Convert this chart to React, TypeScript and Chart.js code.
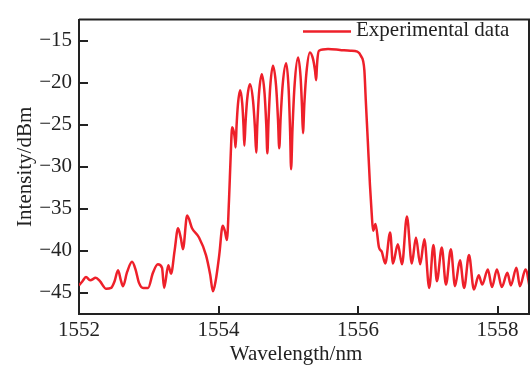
import React, { useEffect, useRef } from "react";
import { Chart, registerables } from "chart.js";

Chart.register(...registerables);

// ---- data ----
const wavelengths = [
  1552.0, 1552.05, 1552.1, 1552.16, 1552.24, 1552.3, 1552.39, 1552.46, 1552.51, 1552.56,
  1552.6, 1552.63, 1552.69, 1552.76, 1552.81, 1552.86, 1552.92, 1552.99, 1553.06, 1553.13,
  1553.19, 1553.22, 1553.28, 1553.32, 1553.37, 1553.42, 1553.46, 1553.49, 1553.55, 1553.62,
  1553.72, 1553.82, 1553.88, 1553.92, 1553.96, 1554.01, 1554.06, 1554.09, 1554.12, 1554.15,
  1554.175, 1554.195, 1554.22, 1554.235, 1554.245, 1554.258, 1554.278, 1554.31, 1554.34, 1554.358,
  1554.37, 1554.386, 1554.41, 1554.45, 1554.495, 1554.522, 1554.54, 1554.556, 1554.58, 1554.62,
  1554.66, 1554.684, 1554.7, 1554.716, 1554.74, 1554.78, 1554.825, 1554.852, 1554.87, 1554.89,
  1554.92, 1554.97, 1555.005, 1555.026, 1555.04, 1555.06, 1555.09, 1555.14, 1555.175, 1555.196,
  1555.21, 1555.23, 1555.26, 1555.31, 1555.355, 1555.382, 1555.4, 1555.408, 1555.42, 1555.44,
  1555.57, 1555.74, 1555.89, 1555.99, 1556.04, 1556.09, 1556.11, 1556.14, 1556.17, 1556.195,
  1556.215, 1556.25, 1556.3, 1556.34, 1556.39, 1556.46, 1556.5, 1556.57, 1556.63, 1556.7,
  1556.77, 1556.83, 1556.89, 1556.95, 1557.02, 1557.08, 1557.13, 1557.2, 1557.26, 1557.33,
  1557.39, 1557.46, 1557.52, 1557.59, 1557.66, 1557.73, 1557.78, 1557.86, 1557.92, 1557.99,
  1558.06, 1558.14, 1558.19, 1558.27, 1558.32, 1558.4, 1558.47,
];
const intensities = [
  -44.1, -43.6, -43.1, -43.5, -43.2, -43.6, -44.5, -44.4, -43.6, -42.3,
  -43.5, -44.2, -42.5, -41.3, -42.2, -43.8, -44.4, -44.4, -42.6, -41.6,
  -42.0, -44.4, -41.7, -42.7, -40.0, -37.3, -38.5, -39.8, -35.8, -37.3,
  -38.4, -40.5, -42.8, -44.8, -43.5, -40.5, -37.0, -37.6, -38.7, -34.0,
  -28.5, -25.3, -25.9, -26.8, -27.7, -25.2, -22.6, -20.9, -22.5, -25.1,
  -27.5, -24.9, -22.0, -20.2, -22.2, -25.4, -28.3, -25.0, -21.3, -19.0,
  -21.3, -25.0, -28.4, -24.7, -20.6, -18.0, -20.4, -24.3, -27.8, -24.2,
  -20.2, -17.7, -20.8, -25.8, -30.3, -25.5, -20.3, -17.0, -19.2, -22.8,
  -26.0, -22.5, -18.8, -16.4, -17.2, -18.5, -19.7, -18.4, -17.0, -16.2,
  -16.0, -16.1, -16.2, -16.3, -16.8, -18.5, -22.0, -27.0, -32.1, -35.5,
  -37.6, -36.8, -39.6, -40.1, -41.5, -37.8, -41.5, -39.2, -41.6, -35.9,
  -41.5, -38.4, -41.6, -38.6, -44.4, -39.3, -43.6, -39.6, -44.0, -39.8,
  -44.2, -41.1, -44.4, -40.5, -44.6, -42.9, -44.0, -42.2, -44.3, -42.2,
  -44.3, -42.6, -44.1, -42.0, -44.2, -42.2, -44.8,
];
const xTickValues = [1552, 1554, 1556, 1558];
const yTickValues = [-45, -40, -35, -30, -25, -20, -15];
const xRange = [1552, 1558.45];
const yRange = [-47.5, -12.5];
const seriesLabel = "Experimental data";
const xTitle = "Wavelength/nm";
const yTitle = "Intensity/dBm";

const FONT_FAMILY = "'Liberation Serif', 'Times New Roman', serif";
const FONT_SIZE = 21;
const LINE_COLOR = "rgb(238, 32, 42)";
const INK = "#222";

const framePlugin = {
  id: "frameAndLegend",
  afterDraw(chart: any) {
    const { ctx, chartArea: a, scales } = chart;
    ctx.save();
    ctx.strokeStyle = INK;
    ctx.lineWidth = 2;
    ctx.beginPath();
    ctx.moveTo(a.left, a.top);
    ctx.lineTo(a.right, a.top);
    ctx.lineTo(a.right, a.bottom);
    xTickValues.forEach((v) => {
      const px = Math.round(scales.x.getPixelForValue(v));
      ctx.moveTo(px, a.bottom);
      ctx.lineTo(px, a.bottom - 8);
    });
    yTickValues.forEach((v) => {
      const py = Math.round(scales.y.getPixelForValue(v));
      ctx.moveTo(a.left, py);
      ctx.lineTo(a.left + 9, py);
    });
    ctx.stroke();

    ctx.fillStyle = INK;
    ctx.font = `${FONT_SIZE}px ${FONT_FAMILY}`;
    ctx.textBaseline = "middle";

    // x axis title (sits slightly left of the plot centre in the reference)
    ctx.textAlign = "center";
    ctx.fillText(xTitle, (a.left + a.right) / 2 - 8, a.bottom + 40);

    // legend
    const lx = a.right - 226;
    const ly = a.top + 12;
    ctx.strokeStyle = LINE_COLOR;
    ctx.lineWidth = 2.5;
    ctx.beginPath();
    ctx.moveTo(lx, ly);
    ctx.lineTo(lx + 48, ly);
    ctx.stroke();
    ctx.textAlign = "left";
    ctx.fillText(seriesLabel, lx + 53, ly - 1);
    ctx.restore();
  },
};

export default function App() {
  const ref = useRef<HTMLCanvasElement | null>(null);

  useEffect(() => {
    if (!ref.current) return;
    const points = wavelengths.map((w, i) => ({ x: w, y: intensities[i] }));
    const tickFont = { family: FONT_FAMILY, size: FONT_SIZE };
    const chart = new Chart(ref.current, {
      type: "line",
      data: {
        datasets: [
          {
            label: seriesLabel,
            data: points,
            borderColor: LINE_COLOR,
            borderWidth: 2.5,
            pointRadius: 0,
            fill: false,
            cubicInterpolationMode: "monotone",
          },
        ],
      },
      options: {
        responsive: false,
        animation: false,
        devicePixelRatio: 1,
        layout: { padding: { top: 11, right: 2, left: 0, bottom: 0 } },
        plugins: { legend: { display: false }, tooltip: { enabled: false } },
        scales: {
          x: {
            type: "linear",
            min: xRange[0],
            max: xRange[1],
            grid: { display: false, drawTicks: false },
            border: { display: true, color: INK, width: 2 },
            afterBuildTicks: (s: any) => {
              s.ticks = xTickValues.map((value) => ({ value }));
            },
            afterFit: (s: any) => {
              s.height = 56;
            },
            ticks: {
              font: tickFont,
              color: INK,
              padding: 4,
              maxRotation: 0,
              callback: (v: any) => String(v),
            },
            title: { display: false, text: xTitle },
          },
          y: {
            type: "linear",
            min: yRange[0],
            max: yRange[1],
            grid: { display: false, drawTicks: false },
            border: { display: true, color: INK, width: 2 },
            afterBuildTicks: (s: any) => {
              s.ticks = yTickValues.map((value) => ({ value }));
            },
            afterFit: (s: any) => {
              s.width = 79;
            },
            ticks: {
              font: tickFont,
              color: INK,
              padding: 7,
              callback: (v: any) => (v < 0 ? "\u2212" + Math.abs(v) : String(v)),
            },
            title: {
              display: true,
              text: yTitle,
              font: tickFont,
              color: INK,
              padding: { top: 13, bottom: 0 },
            },
          },
        },
      },
      plugins: [framePlugin],
    } as any);
    return () => chart.destroy();
  }, []);

  return (
    <div style={{ position: "absolute", left: 0, top: 0, width: 531, height: 370, background: "#fff" }}>
      <canvas ref={ref} width={531} height={370} style={{ display: "block" }} />
    </div>
  );
}
